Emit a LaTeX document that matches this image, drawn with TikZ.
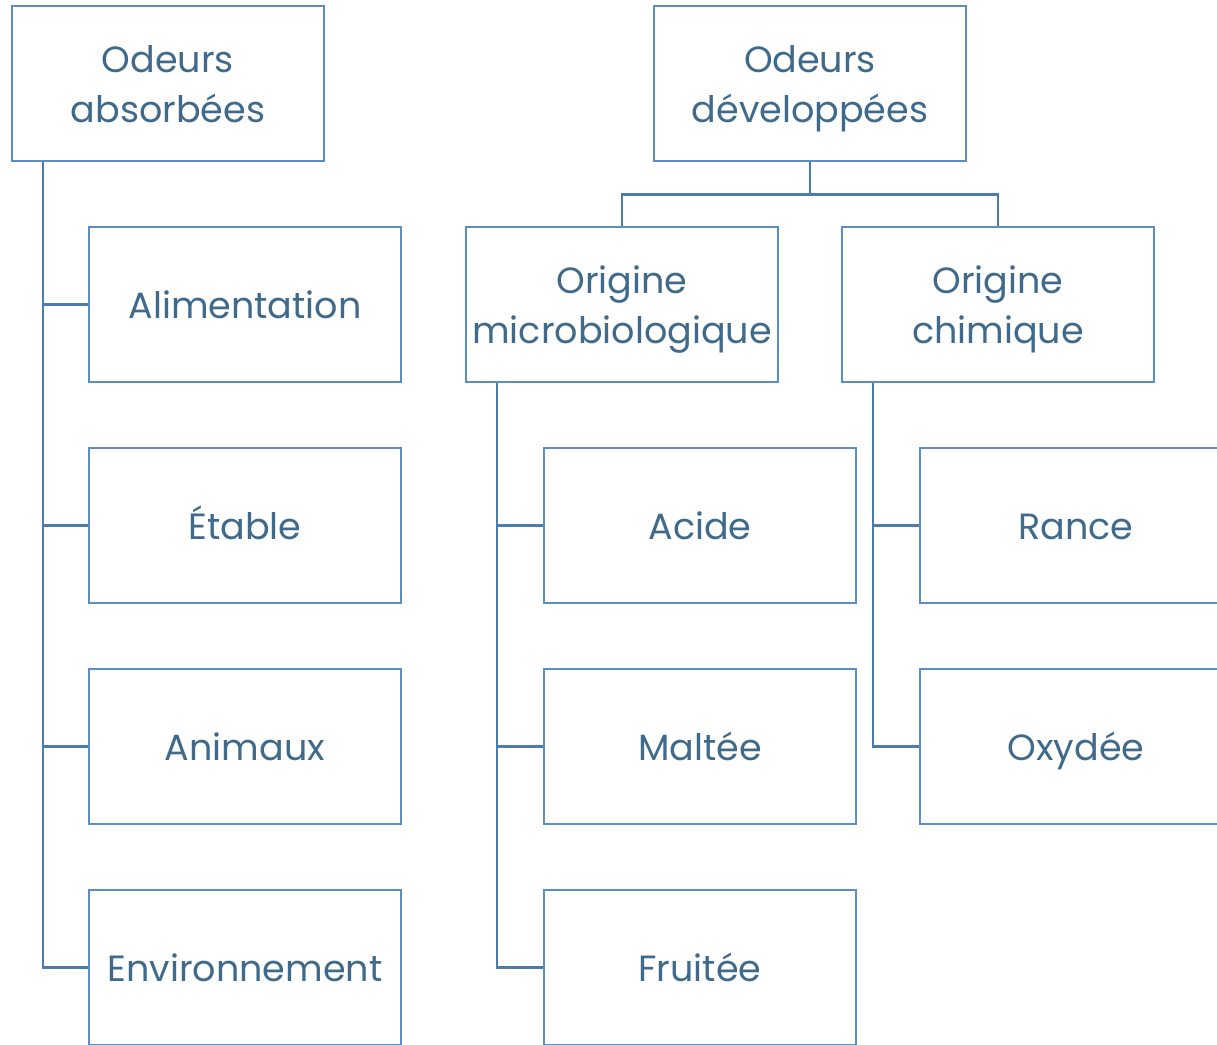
\documentclass[tikz,border=0pt]{standalone}
\usepackage{fontspec}
\setmainfont{Poppins}
\definecolor{boxc}{HTML}{5B8FC4}
\definecolor{linec}{HTML}{4A7DAE}
\definecolor{textc}{HTML}{3F6A8C}
\begin{document}
\begin{tikzpicture}[x=1pt,y=-1pt,
  box/.style={draw=boxc,line width=2.4pt,rectangle,minimum width=312pt,minimum height=155pt,inner sep=0pt,align=center,text=textc,font=\fontsize{36.5}{50}\selectfont,text height=27pt,text depth=0pt},
  box2/.style={box,text height=77pt},
  conn/.style={draw=linec,line width=2.6pt}]
\useasboundingbox (0,0) rectangle (1217,1044);
\clip (0,0) rectangle (1217,1044);
\fill[white] (0,0) rectangle (1217,1044);
\node[box2] (abs) at (168,83.5) {Odeurs\\absorbées};
\node[box] (ali) at (245,304.5) {Alimentation};
\node[box] (eta) at (245,525.5) {Étable};
\node[box] (ani) at (245,746.5) {Animaux};
\node[box] (env) at (245,967.5) {Environnement};
\node[box2] (dev) at (810,83.5) {Odeurs\\développées};
\node[box2] (mic) at (622,304.5) {Origine\\microbiologique};
\node[box2] (chi) at (998,304.5) {Origine\\chimique};
\node[box] (aci) at (700,525.5) {Acide};
\node[box] (mal) at (700,746.5) {Maltée};
\node[box] (fru) at (700,967.5) {Fruitée};
\node[box] (ran) at (1076,525.5) {Rance};
\node[box] (oxy) at (1076,746.5) {Oxydée};
\coordinate (ta) at (43,0);
\coordinate (tm) at (497,0);
\coordinate (tc) at (873,0);
\draw[conn] (abs.south -| ta) |- (ali.west);
\draw[conn] (abs.south -| ta) |- (eta.west);
\draw[conn] (abs.south -| ta) |- (ani.west);
\draw[conn] (abs.south -| ta) |- (env.west);
\draw[conn] (dev.south) -- ++(0,32) -| (mic.north);
\draw[conn] (dev.south) -- ++(0,32) -| (chi.north);
\draw[conn] (mic.south -| tm) |- (aci.west);
\draw[conn] (mic.south -| tm) |- (mal.west);
\draw[conn] (mic.south -| tm) |- (fru.west);
\draw[conn] (chi.south -| tc) |- (ran.west);
\draw[conn] (chi.south -| tc) |- (oxy.west);
\end{tikzpicture}
\end{document}
